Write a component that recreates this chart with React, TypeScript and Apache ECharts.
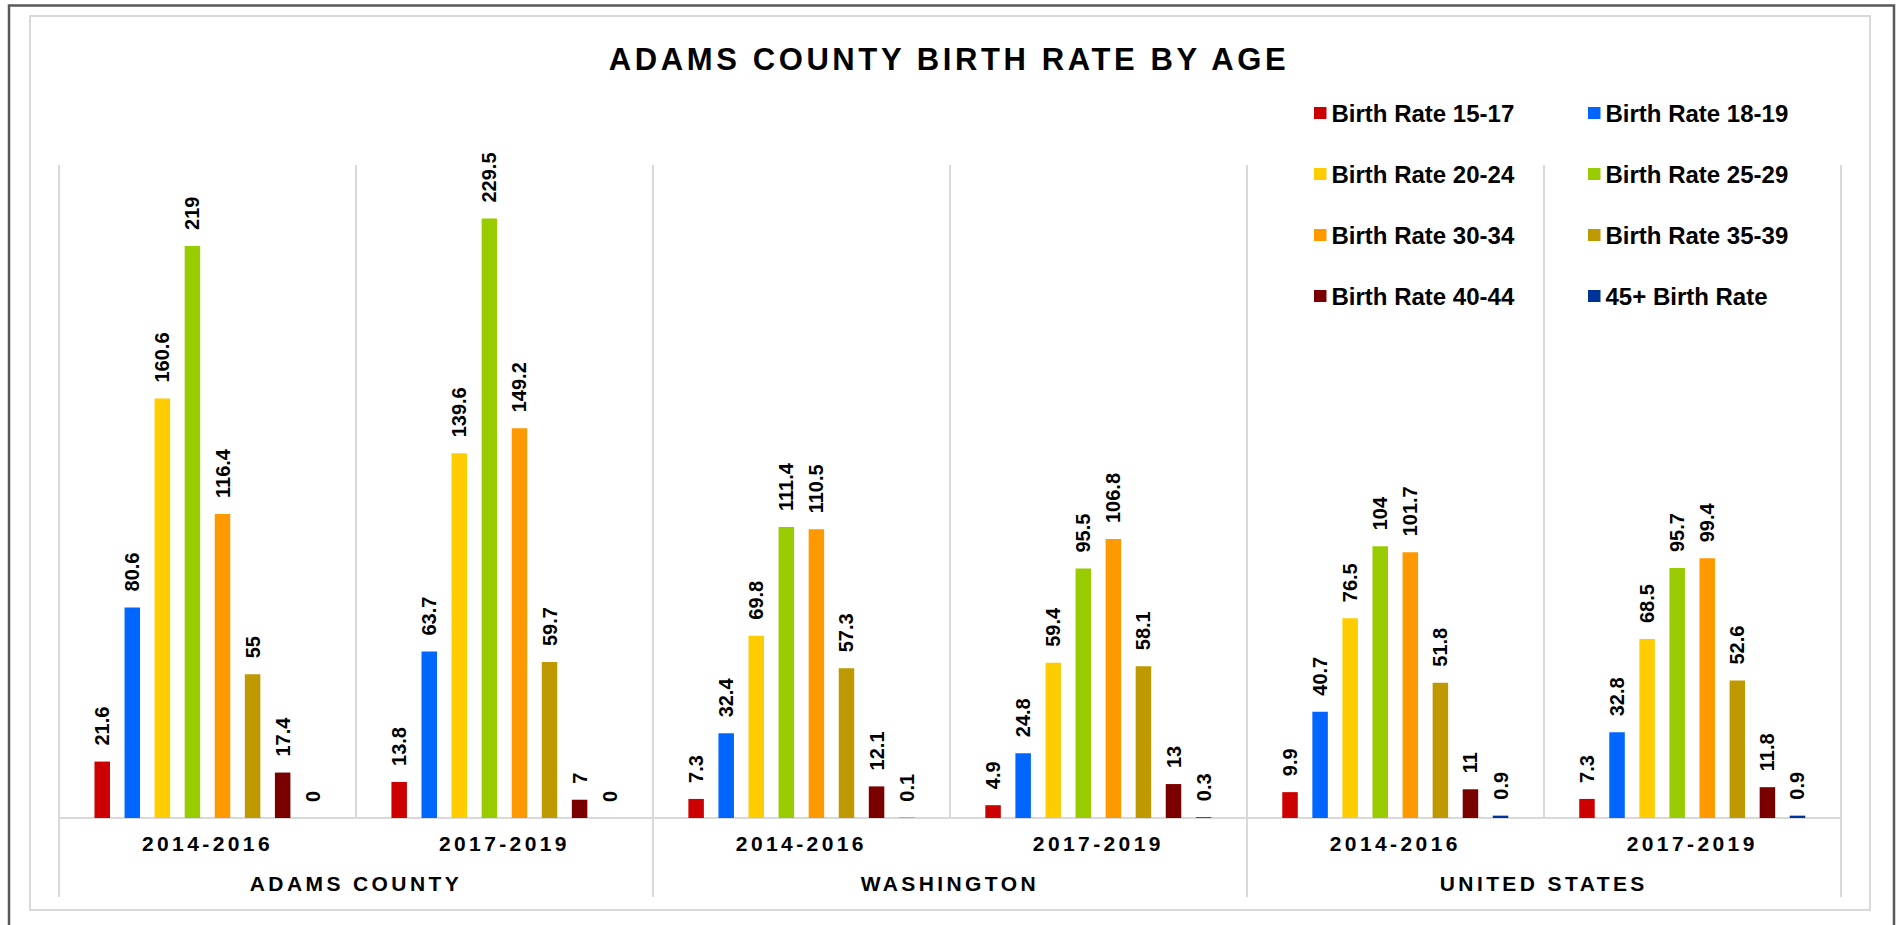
import React, { useEffect, useRef } from 'react';
import * as echarts from 'echarts';

const chartTitle = 'ADAMS COUNTY BIRTH RATE BY AGE';
const periods = ['2014-2016', '2017-2019', '2014-2016', '2017-2019', '2014-2016', '2017-2019'];
const regions = ['ADAMS COUNTY', 'WASHINGTON', 'UNITED STATES'];

const seriesNames = [
  'Birth Rate 15-17',
  'Birth Rate 18-19',
  'Birth Rate 20-24',
  'Birth Rate 25-29',
  'Birth Rate 30-34',
  'Birth Rate 35-39',
  'Birth Rate 40-44',
  '45+ Birth Rate',
];

const rate15to17 = [21.6, 13.8, 7.3, 4.9, 9.9, 7.3];
const rate18to19 = [80.6, 63.7, 32.4, 24.8, 40.7, 32.8];
const rate20to24 = [160.6, 139.6, 69.8, 59.4, 76.5, 68.5];
const rate25to29 = [219, 229.5, 111.4, 95.5, 104, 95.7];
const rate30to34 = [116.4, 149.2, 110.5, 106.8, 101.7, 99.4];
const rate35to39 = [55, 59.7, 57.3, 58.1, 51.8, 52.6];
const rate40to44 = [17.4, 7, 12.1, 13, 11, 11.8];
const rate45plus = [0, 0, 0.1, 0.3, 0.9, 0.9];

const seriesValues = [
  rate15to17,
  rate18to19,
  rate20to24,
  rate25to29,
  rate30to34,
  rate35to39,
  rate40to44,
  rate45plus,
];

const seriesColors = [
  '#CC0000',
  '#0066FF',
  '#FFCC00',
  '#99CC00',
  '#FF9900',
  '#BF9900',
  '#7A0000',
  '#003399',
];

const FONT = 'Liberation Sans';

const letterSpacingMap: Record<string, string> = {
  [chartTitle]: '3.6px',
  '2014-2016': '3.4px',
  '2017-2019': '3.4px',
  'ADAMS COUNTY': '3.4px',
  WASHINGTON: '3.4px',
  'UNITED STATES': '3.4px',
};

export default function App() {
  const ref = useRef<HTMLDivElement>(null);

  useEffect(() => {
    const el = ref.current;
    if (!el) return;
    const chart = echarts.init(el, null, { renderer: 'svg' });

    const legendText = {
      fontFamily: FONT,
      fontSize: 24,
      fontWeight: 'bold' as const,
      color: '#000',
      lineHeight: 24,
    };

    const option: any = {
      animation: false,
      backgroundColor: '#ffffff',
      textStyle: { fontFamily: FONT },
      title: {
        text: chartTitle,
        left: 'center',
        top: 39,
        textStyle: {
          fontFamily: FONT,
          fontSize: 31,
          fontWeight: 'bold',
          color: '#000',
          lineHeight: 31,
        },
      },
      legend: [
        {
          orient: 'vertical',
          left: 1314,
          top: 101,
          padding: 0,
          itemGap: 37,
          itemWidth: 12.5,
          itemHeight: 12,
          icon: 'rect',
          data: [seriesNames[0], seriesNames[2], seriesNames[4], seriesNames[6]],
          textStyle: legendText,
        },
        {
          orient: 'vertical',
          left: 1588,
          top: 101,
          padding: 0,
          itemGap: 37,
          itemWidth: 12.5,
          itemHeight: 12,
          icon: 'rect',
          data: [seriesNames[1], seriesNames[3], seriesNames[5], seriesNames[7]],
          textStyle: legendText,
        },
      ],
      grid: {
        left: 59,
        right: 57.3,
        top: 165,
        bottom: 107,
        containLabel: false,
      },
      xAxis: [
        {
          type: 'category',
          data: periods,
          position: 'bottom',
          axisLine: { show: true, lineStyle: { color: '#d9d9d9', width: 2 } },
          axisTick: { show: false },
          axisLabel: {
            interval: 0,
            margin: 15.4,
            fontFamily: FONT,
            fontSize: 21,
            fontWeight: 'bold',
            color: '#000',
            lineHeight: 21,
          },
          splitLine: { show: true, lineStyle: { color: '#d9d9d9', width: 2 } },
        },
        {
          type: 'category',
          data: regions,
          position: 'bottom',
          offset: 0,
          axisLine: { show: false },
          axisTick: { show: true, length: 79, lineStyle: { color: '#d9d9d9', width: 2 } },
          axisLabel: {
            interval: 0,
            margin: 55,
            fontFamily: FONT,
            fontSize: 21,
            fontWeight: 'bold',
            color: '#000',
            lineHeight: 21,
          },
          splitLine: { show: false },
        },
      ],
      yAxis: {
        type: 'value',
        min: 0,
        max: 250,
        show: false,
        splitLine: { show: false },
      },
      series: seriesNames.map((name, i) => ({
        name,
        type: 'bar',
        xAxisIndex: 0,
        data: seriesValues[i],
        barWidth: 15.5,
        barGap: '94%',
        itemStyle: { color: seriesColors[i] },
        label: {
          show: true,
          position: 'top',
          rotate: 90,
          align: 'left',
          verticalAlign: 'middle',
          distance: 16,
          fontFamily: FONT,
          fontSize: 20,
          fontWeight: 'bold',
          color: '#000',
        },
      })),
      graphic: [
        {
          type: 'rect',
          silent: true,
          z: -10,
          shape: { x: 9, y: 5.5, width: 1885, height: 940 },
          style: { fill: 'none', stroke: '#595959', lineWidth: 2.5 },
        },
        {
          type: 'rect',
          silent: true,
          z: -10,
          shape: { x: 30, y: 16, width: 1840, height: 894 },
          style: { fill: 'none', stroke: '#d9d9d9', lineWidth: 2 },
        },
      ],
    };

    chart.setOption(option);

    const applySpacing = () => {
      el.querySelectorAll('text').forEach((t) => {
        const s = letterSpacingMap[(t.textContent || '').trim()];
        if (s) t.setAttribute('letter-spacing', s);
      });
    };
    applySpacing();
    chart.on('finished', applySpacing);
    const raf = requestAnimationFrame(applySpacing);

    return () => {
      cancelAnimationFrame(raf);
      chart.dispose();
    };
  }, []);

  return (
    <div
      ref={ref}
      style={{ position: 'absolute', left: 0, top: 0, width: 1898, height: 925 }}
    />
  );
}
